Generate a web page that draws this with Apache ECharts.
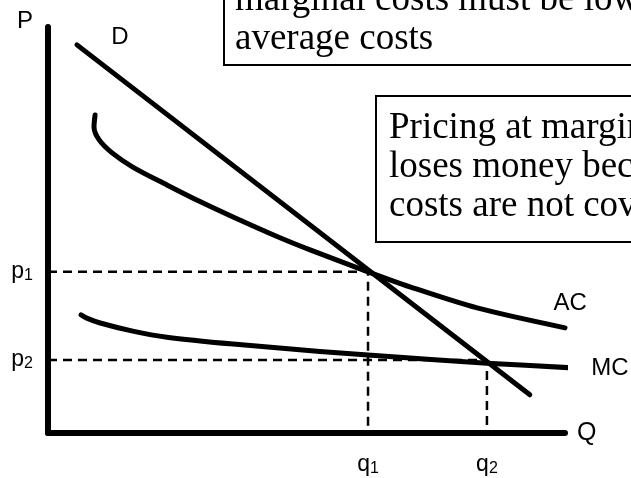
<!DOCTYPE html>
<html>
<head>
<meta charset="utf-8">
<script src="https://cdn.jsdelivr.net/npm/echarts@6/dist/echarts.min.js"></script>
<style>
  html, body { margin: 0; padding: 0; background: #fff; }
  #chart { width: 631px; height: 478px; }
</style>
</head>
<body>
<div id="chart"></div>
<script>
// ---- data (quantity Q on x, price P on y; axis range 0..10) ----
const qMax = 10;
const pMax = 10;

const demandQ = [0.56, 9.32];
const demandP = [9.56, 0.94];

const acQ = [0.91, 0.89, 0.99, 1.24, 1.64, 2.30, 2.94, 3.58, 4.43, 5.07, 6.19, 7.00, 8.30, 10.00];
const acP = [7.83, 7.54, 7.22, 6.90, 6.55, 6.11, 5.70, 5.32, 4.84, 4.51, 3.97, 3.60, 3.08, 2.59];

const mcQ = [0.64, 0.75, 1.01, 1.64, 2.30, 3.58, 5.26, 6.19, 8.49, 10.21];
const mcP = [2.91, 2.83, 2.71, 2.51, 2.36, 2.19, 2.01, 1.92, 1.72, 1.60];

const qTicks = [6.19, 8.49];          // q1, q2
const qTickNames = [['q', '1'], ['q', '2']];
const pTicks = [3.97, 1.80];          // p1, p2
const pTickNames = [['p', '1'], ['p', '2']];

const curveLabelNames = ['D', 'AC', 'MC'];
const curveLabelQ = [1.39, 10.10, 10.87];
const curveLabelP = [9.75, 3.20, 1.60];

const noteTop = ['marginal costs must be lower than', 'average costs'];
const noteRight = ['Pricing at marginal cost', 'loses money because fixed', 'costs are not covered'];

// ---- build ----
const SANS = '"Liberation Sans", Arial, sans-serif';
const SERIF = '"Liberation Serif", "Times New Roman", serif';

function zip(xs, ys) { return xs.map((x, i) => [x, ys[i]]); }

const subRich = {
  b: { fontSize: 23, fontFamily: SANS, color: '#000', lineHeight: 24 },
  s: { fontSize: 16, fontFamily: SANS, color: '#000', lineHeight: 18, verticalAlign: 'bottom' }
};

function tickFormatter(ticks, names) {
  return function (v) {
    let idx = -1;
    ticks.forEach((t, i) => { if (Math.abs(t - v) < 1e-6) idx = i; });
    if (idx < 0) return '';
    return '{b|' + names[idx][0] + '}{s|' + names[idx][1] + '}';
  };
}

const curveStyle = { color: '#000', width: 5, cap: 'round', join: 'round' };
const dashStyle = { color: '#000', width: 2.5, type: [9, 6] };

const option = {
  animation: false,
  backgroundColor: '#fff',
  grid: { left: 48, right: 66, top: 27, bottom: 45, containLabel: false, outerBoundsMode: 'none' },
  xAxis: {
    type: 'value', min: 0, max: qMax,
    name: 'Q', nameLocation: 'end', nameGap: 12,
    nameTextStyle: { fontSize: 25, fontFamily: SANS, color: '#000', align: 'left', verticalAlign: 'middle', padding: [0, 0, 6, 0] },
    axisLine: { show: true, onZero: false, lineStyle: { color: '#000', width: 6 } },
    axisTick: { show: false },
    splitLine: { show: false },
    axisLabel: {
      show: true, customValues: qTicks, margin: 20, color: '#000',
      formatter: tickFormatter(qTicks, qTickNames), rich: subRich
    }
  },
  yAxis: {
    type: 'value', min: 0, max: pMax,
    name: 'P', nameLocation: 'end', nameGap: 6,
    nameTextStyle: { fontSize: 24, fontFamily: SANS, color: '#000', align: 'right', verticalAlign: 'middle', padding: [0, 15, 0, 0] },
    axisLine: { show: true, onZero: false, lineStyle: { color: '#000', width: 6 } },
    axisTick: { show: false },
    splitLine: { show: false },
    axisLabel: {
      show: true, customValues: pTicks, margin: 15, color: '#000',
      formatter: tickFormatter(pTicks, pTickNames), rich: subRich
    }
  },
  series: [
    {
      name: 'p1q1', type: 'line', silent: true, clip: false, symbol: 'none',
      data: [[0, pTicks[0]], [qTicks[0], pTicks[0]], [qTicks[0], 0]],
      lineStyle: dashStyle, z: 1
    },
    {
      name: 'p2q2', type: 'line', silent: true, clip: false, symbol: 'none',
      data: [[0, pTicks[1]], [qTicks[1], pTicks[1]], [qTicks[1], 0]],
      lineStyle: dashStyle, z: 1
    },
    {
      name: 'D', type: 'line', symbol: 'none', clip: false,
      data: zip(demandQ, demandP), lineStyle: curveStyle, z: 3
    },
    {
      name: 'AC', type: 'line', symbol: 'none', clip: false, smooth: 0.3,
      data: zip(acQ, acP), lineStyle: curveStyle, z: 3
    },
    {
      name: 'MC', type: 'line', symbol: 'none', clip: false, smooth: 0.3,
      data: zip(mcQ, mcP), lineStyle: curveStyle, z: 3
    },
    {
      name: 'labels', type: 'scatter', symbolSize: 0, clip: false, silent: true,
      itemStyle: { color: '#000', opacity: 1 },
      data: curveLabelNames.map((n, i) => ({ value: [curveLabelQ[i], curveLabelP[i]], name: n })),
      label: {
        show: true, position: 'inside', formatter: '{b}', opacity: 1,
        fontSize: 24, fontFamily: SANS, color: '#000', textBorderWidth: 0
      },
      z: 4
    }
  ],
  graphic: [
    {
      type: 'text', left: 223, top: -31, z: 100,
      style: {
        text: noteTop.join('\n'),
        fontSize: 37, fontFamily: SERIF, fill: '#000', lineHeight: 39,
        padding: [10, 30, 5, 10],
        backgroundColor: '#fff', borderColor: '#000', borderWidth: 2
      }
    },
    {
      type: 'text', left: 375, top: 95, z: 100,
      style: {
        text: noteRight.join('\n'),
        fontSize: 37, fontFamily: SERIF, fill: '#000', lineHeight: 39,
        padding: [12, 30, 15, 12],
        backgroundColor: '#fff', borderColor: '#000', borderWidth: 2
      }
    }
  ]
};

const chart = echarts.init(document.getElementById('chart'), null, { renderer: 'canvas' });
chart.setOption(option);
</script>
</body>
</html>
